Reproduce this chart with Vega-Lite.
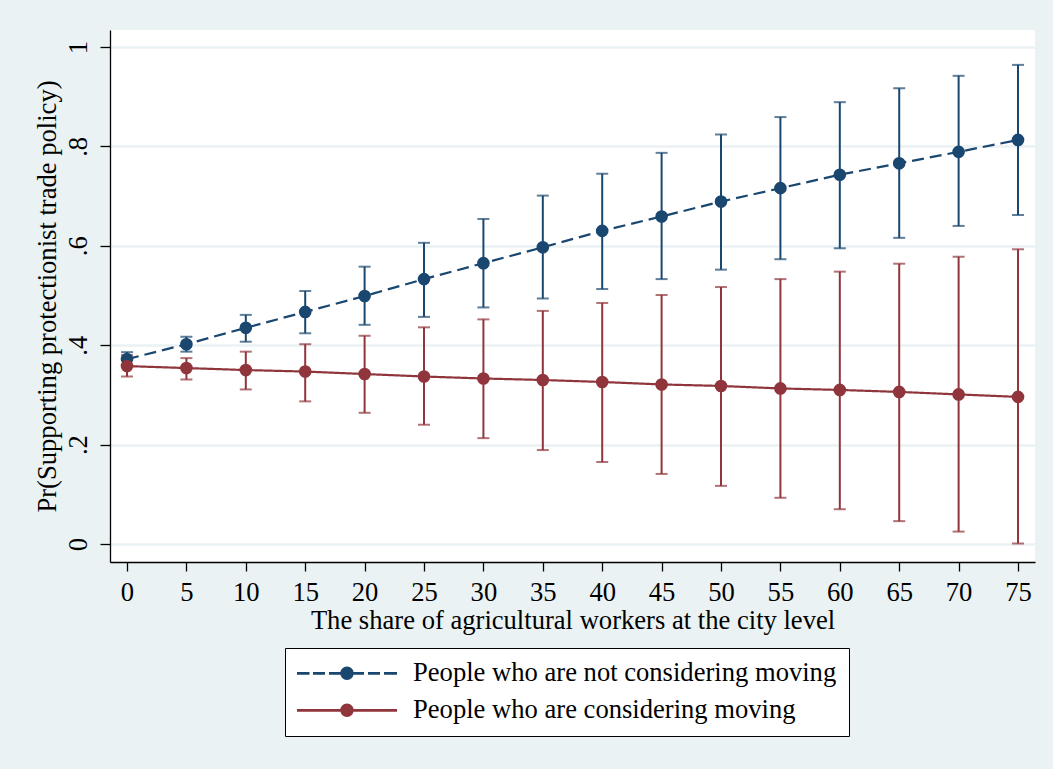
{
  "$schema": "https://vega.github.io/schema/vega-lite/v6.json",
  "width": 925,
  "height": 532,
  "autosize": {"type": "none"},
  "padding": {"left": 110, "top": 30, "right": 18, "bottom": 207},
  "background": "#EAF2F3",
  "config": {
    "view": {"fill": "white", "stroke": null},
    "font": "Liberation Serif",
    "axis": {
      "labelFont": "Liberation Serif",
      "titleFont": "Liberation Serif",
      "labelFontSize": 26.6,
      "titleFontSize": 26.6,
      "titleFontWeight": "normal",
      "labelColor": "black",
      "titleColor": "black",
      "domainColor": "black",
      "domainWidth": 1.3,
      "tickColor": "black",
      "tickWidth": 1.3,
      "tickSize": 9
    },
    "legend": {"labelFont": "Liberation Serif", "labelFontSize": 26.6, "labelColor": "black"}
  },
  "data": {
    "values": [
      {"x": 0, "series": "People who are not considering moving", "p": 0.372, "lo": 0.358, "hi": 0.386},
      {"x": 5, "series": "People who are not considering moving", "p": 0.402, "lo": 0.387, "hi": 0.417},
      {"x": 10, "series": "People who are not considering moving", "p": 0.435, "lo": 0.407, "hi": 0.461},
      {"x": 15, "series": "People who are not considering moving", "p": 0.467, "lo": 0.424, "hi": 0.509},
      {"x": 20, "series": "People who are not considering moving", "p": 0.499, "lo": 0.441, "hi": 0.558},
      {"x": 25, "series": "People who are not considering moving", "p": 0.533, "lo": 0.457, "hi": 0.606},
      {"x": 30, "series": "People who are not considering moving", "p": 0.565, "lo": 0.476, "hi": 0.654},
      {"x": 35, "series": "People who are not considering moving", "p": 0.597, "lo": 0.494, "hi": 0.701},
      {"x": 40, "series": "People who are not considering moving", "p": 0.630, "lo": 0.513, "hi": 0.745},
      {"x": 45, "series": "People who are not considering moving", "p": 0.659, "lo": 0.533, "hi": 0.787},
      {"x": 50, "series": "People who are not considering moving", "p": 0.689, "lo": 0.552, "hi": 0.824},
      {"x": 55, "series": "People who are not considering moving", "p": 0.716, "lo": 0.573, "hi": 0.859},
      {"x": 60, "series": "People who are not considering moving", "p": 0.743, "lo": 0.595, "hi": 0.889},
      {"x": 65, "series": "People who are not considering moving", "p": 0.766, "lo": 0.616, "hi": 0.917},
      {"x": 70, "series": "People who are not considering moving", "p": 0.789, "lo": 0.640, "hi": 0.942},
      {"x": 75, "series": "People who are not considering moving", "p": 0.813, "lo": 0.662, "hi": 0.964},
      {"x": 0, "series": "People who are considering moving", "p": 0.358, "lo": 0.337, "hi": 0.380},
      {"x": 5, "series": "People who are considering moving", "p": 0.354, "lo": 0.331, "hi": 0.374},
      {"x": 10, "series": "People who are considering moving", "p": 0.350, "lo": 0.311, "hi": 0.387},
      {"x": 15, "series": "People who are considering moving", "p": 0.347, "lo": 0.287, "hi": 0.402},
      {"x": 20, "series": "People who are considering moving", "p": 0.342, "lo": 0.264, "hi": 0.419},
      {"x": 25, "series": "People who are considering moving", "p": 0.337, "lo": 0.240, "hi": 0.436},
      {"x": 30, "series": "People who are considering moving", "p": 0.333, "lo": 0.213, "hi": 0.452},
      {"x": 35, "series": "People who are considering moving", "p": 0.330, "lo": 0.189, "hi": 0.469},
      {"x": 40, "series": "People who are considering moving", "p": 0.326, "lo": 0.165, "hi": 0.485},
      {"x": 45, "series": "People who are considering moving", "p": 0.321, "lo": 0.141, "hi": 0.501},
      {"x": 50, "series": "People who are considering moving", "p": 0.318, "lo": 0.117, "hi": 0.517},
      {"x": 55, "series": "People who are considering moving", "p": 0.313, "lo": 0.093, "hi": 0.533},
      {"x": 60, "series": "People who are considering moving", "p": 0.310, "lo": 0.070, "hi": 0.548},
      {"x": 65, "series": "People who are considering moving", "p": 0.306, "lo": 0.046, "hi": 0.564},
      {"x": 70, "series": "People who are considering moving", "p": 0.301, "lo": 0.025, "hi": 0.578},
      {"x": 75, "series": "People who are considering moving", "p": 0.296, "lo": 0.001, "hi": 0.593}
    ]
  },
  "encoding": {
    "x": {
      "field": "x",
      "type": "quantitative",
      "scale": {"domain": [-1.431, 76.43], "nice": false, "zero": false},
      "axis": {
        "title": "The share of agricultural workers at the city level",
        "values": [0, 5, 10, 15, 20, 25, 30, 35, 40, 45, 50, 55, 60, 65, 70, 75],
        "grid": false,
        "labelPadding": 8,
        "titlePadding": 2
      }
    },
    "color": {
      "field": "series",
      "type": "nominal",
      "scale": {
        "domain": ["People who are not considering moving", "People who are considering moving"],
        "range": ["#1A476F", "#90353B"]
      },
      "legend": {
        "title": null,
        "orient": "none",
        "legendX": 175,
        "legendY": 618,
        "direction": "vertical",
        "strokeColor": "black",
        "fillColor": "white",
        "padding": 12,
        "rowPadding": 10,
        "labelOffset": 52.7,
        "symbolOffset": 36.7,
        "labelLimit": 0,
        "symbolSize": 196,
        "symbolStrokeWidth": 0,
        "symbolOpacity": 1,
        "encode": {
          "symbols": {
            "update": {
              "shape": {"signal": "datum.value === 'People who are not considering moving' ? 'M-7.143,-0.2H-5.357V0.2H-7.143Z M-4.857,-0.2H-3.143V0.2H-4.857Z M-2.571,-0.2H-0.7V0.2H-2.571Z M0.7,-0.2H2.429V0.2H0.7Z M3,-0.2H4.714V0.2H3Z M5.286,-0.2H7.143V0.2H5.286Z M-0.957,0A0.957,0.957 0 1,1 0.957,0A0.957,0.957 0 1,1 -0.957,0Z' : 'M-7.143,-0.2H7.143V0.2H-7.143Z M-0.957,0A0.957,0.957 0 1,1 0.957,0A0.957,0.957 0 1,1 -0.957,0Z'"},
              "strokeWidth": {"value": 0},
              "size": {"value": 196}
            }
          }
        }
      }
    }
  },
  "layer": [
    {
      "mark": {"type": "rule", "strokeWidth": 2},
      "encoding": {
        "y": {
          "field": "lo",
          "type": "quantitative",
          "scale": {"domain": [-0.0362, 1.0342], "nice": false, "zero": false},
          "axis": {
            "title": "Pr(Supporting protectionist trade policy)",
            "values": [0, 0.2, 0.4, 0.6, 0.8, 1],
            "labelExpr": "datum.value == 0 ? '0' : datum.value == 1 ? '1' : substring(format(datum.value, '.1f'), 1)",
            "labelAngle": -90,
            "labelPadding": 8,
            "titlePadding": 4,
            "grid": true,
            "gridColor": "#EAF2F3",
            "gridWidth": 2.5,
            "tickSize": 10
          }
        },
        "y2": {"field": "hi"}
      }
    },
    {
      "mark": {"type": "tick", "orient": "horizontal", "size": 12, "thickness": 2},
      "encoding": {"y": {"field": "lo", "type": "quantitative"}}
    },
    {
      "mark": {"type": "tick", "orient": "horizontal", "size": 12, "thickness": 2},
      "encoding": {"y": {"field": "hi", "type": "quantitative"}}
    },
    {
      "mark": {"type": "line", "strokeWidth": 2.2},
      "encoding": {
        "y": {"field": "p", "type": "quantitative"},
        "strokeDash": {
          "field": "series",
          "type": "nominal",
          "scale": {
            "domain": ["People who are not considering moving", "People who are considering moving"],
            "range": [[12, 6], [1, 0]]
          },
          "legend": null
        }
      }
    },
    {
      "mark": {"type": "point", "filled": true, "size": 160, "opacity": 1},
      "encoding": {"y": {"field": "p", "type": "quantitative"}}
    }
  ]
}
